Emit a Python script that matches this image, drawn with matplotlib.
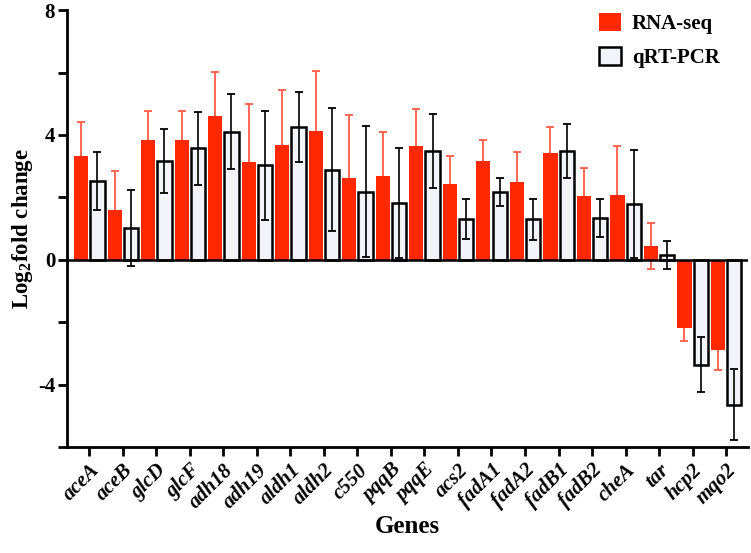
import numpy as np
import matplotlib
matplotlib.use("Agg")
from matplotlib import pyplot as plt

plt.rcParams['font.family'] = ['Liberation Serif', 'DejaVu Serif']
plt.rcParams['mathtext.fontset'] = 'custom'
plt.rcParams['mathtext.rm'] = 'Liberation Serif:bold'
plt.rcParams['mathtext.bf'] = 'Liberation Serif:bold'

genes = ['aceA', 'aceB', 'glcD', 'glcF', 'adh18', 'adh19', 'aldh1', 'aldh2', 'c550', 'pqqB',
         'pqqE', 'acs2', 'fadA1', 'fadA2', 'fadB1', 'fadB2', 'cheA', 'tar', 'hcp2', 'mqo2']

# RNA-seq log2 fold change and error
rna_seq = [3.31, 1.60, 3.84, 3.84, 4.60, 3.13, 3.67, 4.13, 2.62, 2.67,
           3.63, 2.42, 3.17, 2.50, 3.41, 2.03, 2.08, 0.43, -2.19, -2.88]
rna_err = [1.09, 1.26, 0.93, 0.93, 1.42, 1.87, 1.77, 1.91, 2.01, 1.43,
           1.20, 0.91, 0.67, 0.95, 0.85, 0.90, 1.55, 0.74, 0.42, 0.64]

# qRT-PCR log2 fold change and error
qpcr = [2.53, 1.03, 3.16, 3.58, 4.11, 3.03, 4.26, 2.89, 2.18, 1.81,
        3.49, 1.31, 2.17, 1.30, 3.49, 1.34, 1.79, 0.16, -3.36, -4.64]
qpcr_err = [0.92, 1.22, 1.03, 1.17, 1.20, 1.74, 1.12, 1.98, 2.10, 1.76,
            1.19, 0.64, 0.44, 0.66, 0.86, 0.60, 1.73, 0.45, 0.89, 1.13]

red = '#ff2800'
red_err = '#ff5a48'
light = '#f3f3fa'

x = np.arange(len(genes))
w = 0.42
off = 0.24

fig = plt.figure(figsize=(7.51, 5.53), dpi=100)
ax = fig.add_axes([0.0892, 0.1917, 0.907, 0.79])

ax.errorbar(x - off, rna_seq, yerr=rna_err, fmt='none', ecolor=red_err,
            elinewidth=1.3, capsize=3, capthick=1.3, zorder=1)
ax.bar(x - off, rna_seq, width=w, color=red, edgecolor=red, linewidth=0,
       label='RNA-seq', zorder=2)
ax.bar(x + off, qpcr, width=w, color=light, edgecolor='black', linewidth=1.8,
       label='qRT-PCR', zorder=2)
ax.errorbar(x + off, qpcr, yerr=qpcr_err, fmt='none', ecolor='black',
            elinewidth=1.2, capsize=3, capthick=1.3, zorder=3)

ax.axhline(0, color='black', linewidth=1.8, zorder=4)

ax.set_xlim(-0.67, 19.66)
ax.set_ylim(-6, 8)
ax.set_yticks([-4, 0, 4, 8])
ax.set_yticks([-6, -2, 2, 6], minor=True)
ax.set_yticklabels(['-4', '0', '4', '8'], fontsize=15, fontweight='bold')
ax.set_xticks(x)
ax.set_xticklabels(genes, rotation=45, ha='right', rotation_mode='anchor',
                   fontsize=15, fontweight='bold', fontstyle='italic')

ax.spines['top'].set_visible(False)
ax.spines['right'].set_visible(False)
ax.spines['left'].set_linewidth(2)
ax.spines['bottom'].set_linewidth(2)
ax.tick_params(axis='y', which='major', direction='out', length=6.5, width=2, pad=2)
ax.tick_params(axis='y', which='minor', direction='out', length=6.5, width=2)
ax.tick_params(axis='x', which='major', direction='out', length=6.5, width=2, pad=3)

ax.set_ylabel(r'Log$_2$fold change', fontsize=16.5, fontweight='bold', labelpad=2)
ax.set_xlabel('Genes', fontsize=18, fontweight='bold', labelpad=2)

leg = fig.legend(loc='upper left', bbox_to_anchor=(0.797, 0.977), frameon=False,
                 prop={'weight': 'bold', 'size': 15}, handlelength=1.1,
                 handleheight=1.0, handletextpad=0.5, labelspacing=0.6,
                 borderpad=0, borderaxespad=0)

fig.savefig('out.png', dpi=100)
